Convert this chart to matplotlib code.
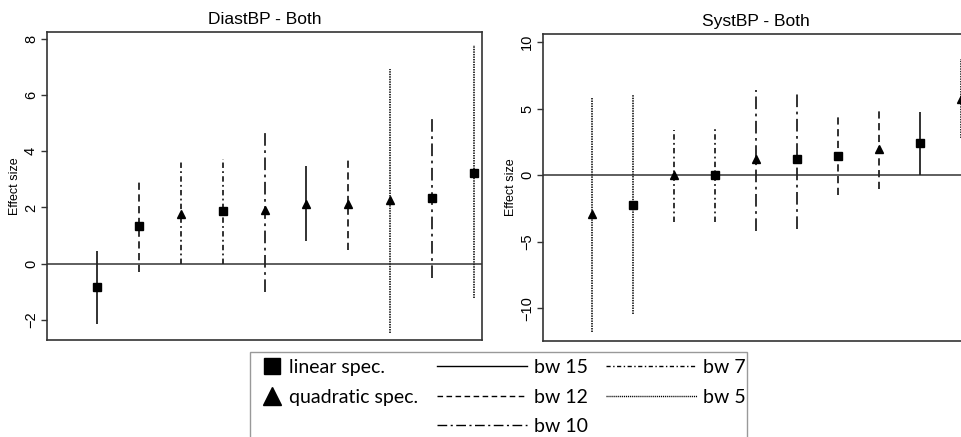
import matplotlib
matplotlib.use("Agg")
import matplotlib.pyplot as plt
from matplotlib.lines import Line2D
from matplotlib.patches import Rectangle

# point estimates and confidence bounds, sorted by estimate (as in the source)
diast_est = [-0.84, 1.33, 1.77, 1.86, 1.92, 2.13, 2.11, 2.27, 2.33, 3.24]
diast_lo = [-2.15, -0.31, 0.0, 0.0, -1.0, 0.79, 0.47, -2.47, -0.51, -1.22]
diast_hi = [0.46, 2.95, 3.62, 3.72, 4.78, 3.46, 3.76, 6.93, 5.18, 7.77]
diast_spec = ["lin", "lin", "quad", "lin", "quad", "quad", "quad", "quad", "lin", "lin"]
diast_bw = [15, 12, 7, 7, 10, 15, 12, 5, 10, 5]

syst_est = [-2.95, -2.24, 0.0, 0.0, 1.2, 1.2, 1.42, 1.97, 2.39, 5.69]
syst_lo = [-11.8, -10.4, -3.48, -3.48, -4.18, -4.05, -1.52, -1.07, 0.0, 2.8]
syst_hi = [5.77, 6.02, 3.36, 3.46, 6.42, 6.42, 4.4, 4.95, 4.73, 8.7]
syst_spec = ["quad", "lin", "quad", "lin", "quad", "lin", "lin", "quad", "lin", "quad"]
syst_bw = [5, 5, 7, 7, 10, 10, 12, 12, 15, 5]

diast_ticks = [-2, 0, 2, 4, 6, 8]
syst_ticks = [-10, -5, 0, 5, 10]

bw_style = {
    15: "solid",
    12: (0, (4, 2.5)),
    10: (0, (7, 2.5, 1.5, 2.5)),
    7: (0, (3, 1.8, 1, 1.8)),
    5: (0, (0.8, 0.6)),
}
spec_marker = {"lin": "s", "quad": "^"}
spec_label = {"lin": "linear spec.", "quad": "quadratic spec."}

plt.rcParams["font.family"] = ["Liberation Sans", "DejaVu Sans"]

fig = plt.figure(figsize=(9.62, 4.37), dpi=100)
ax1 = fig.add_axes([47 / 962, 97 / 437, 435 / 962, 308 / 437])
ax2 = fig.add_axes([543 / 962, 96 / 437, 426 / 962, 307 / 437])


def draw_panel(ax, title, est, lo, hi, spec, bw, ticks, ylim):
    xs = list(range(1, len(est) + 1))
    ax.axhline(0, color="#333333", lw=1.1, zorder=1)
    for x, e, l, h, s, b in zip(xs, est, lo, hi, spec, bw):
        ax.vlines(x, l, h, colors="#222222", linestyles=bw_style[b], lw=1.3, zorder=2)
        ax.plot(x, e, marker=spec_marker[s], color="black",
                markersize=5.6 if s == "lin" else 6.3, ls="none", zorder=3)
    ax.set_xlim(-0.2, 10.2)
    ax.set_ylim(*ylim)
    ax.set_xticks([])
    ax.set_yticks(ticks)
    ax.tick_params(axis="y", labelrotation=90, labelsize=10.5, length=4,
                   width=1, color="#333333", pad=2.5)
    for lab in ax.get_yticklabels():
        lab.set_va("center")
    ax.set_ylabel("Effect size", fontsize=9, labelpad=2)
    ax.set_title(title, fontsize=12.5, pad=6)
    for sp in ax.spines.values():
        sp.set_color("#333333")
        sp.set_linewidth(1.2)


draw_panel(ax1, "DiastBP - Both", diast_est, diast_lo, diast_hi,
           diast_spec, diast_bw, diast_ticks, (-2.72, 8.25))
draw_panel(ax2, "SystBP - Both", syst_est, syst_lo, syst_hi,
           syst_spec, syst_bw, syst_ticks, (-12.45, 10.6))

# legend box below the panels
fig.patches.append(Rectangle((250 / 962, -0.02), 497 / 962, 0.02 + 85 / 437,
                             transform=fig.transFigure, fill=False,
                             edgecolor="#999999", lw=1))

legend_font = {"family": ["Lato", "DejaVu Sans"], "size": 14}

mark_handles = [Line2D([], [], marker=spec_marker[k], color="black", ls="none",
                       markersize=11 if k == "lin" else 12.5) for k in ["lin", "quad"]]
mark_labels = [spec_label[k] for k in ["lin", "quad"]]
fig.legend(mark_handles, mark_labels, loc="upper left",
           bbox_to_anchor=(263 / 962, 78 / 437), frameon=False,
           prop=legend_font, handlelength=0.9, handletextpad=0.42,
           borderpad=0, borderaxespad=0, labelspacing=0.65)

bw_order = [15, 12, 10, 7, 5]
line_handles = [Line2D([], [], color="black", lw=1.0, ls=bw_style[b]) for b in bw_order]
line_labels = ["bw %d" % b for b in bw_order]
fig.legend(line_handles, line_labels, loc="upper left", ncol=2,
           bbox_to_anchor=(437 / 962, 78 / 437), frameon=False,
           prop=legend_font, handlelength=4.65, handletextpad=0.33,
           borderpad=0, borderaxespad=0, labelspacing=0.65, columnspacing=0.95)

fig.savefig("out.png", dpi=100)
